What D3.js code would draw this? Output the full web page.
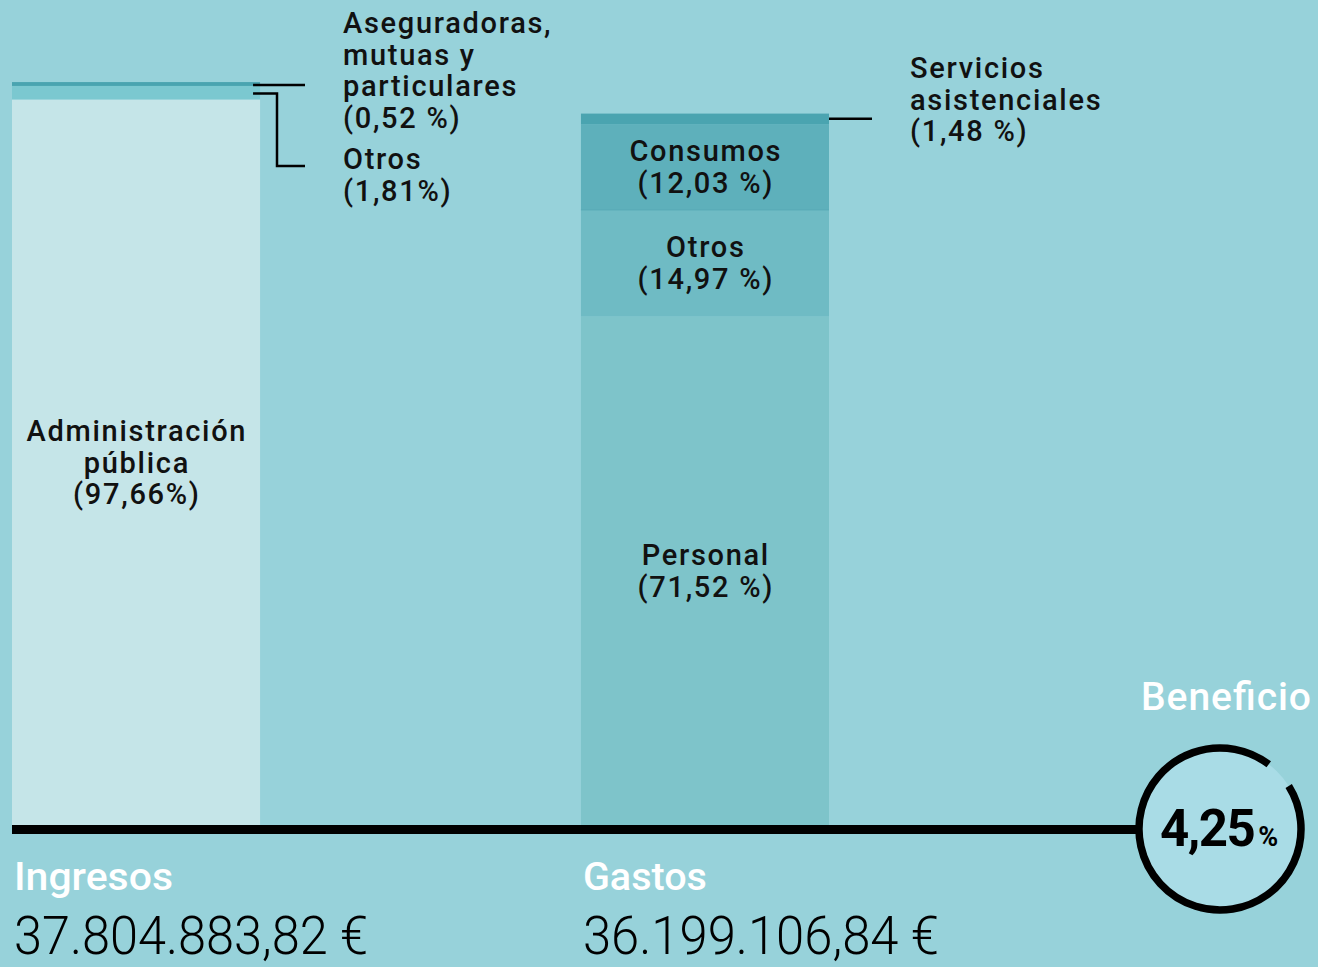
<!DOCTYPE html>
<html>
<head>
<meta charset="utf-8">
<script src="https://cdn.jsdelivr.net/npm/d3@7"></script>
<style>
  html, body { margin: 0; padding: 0; background: #97d2da; }
  svg { display: block; font-family: Roboto, "DejaVu Sans", sans-serif; }
</style>
</head>
<body>
<div id="chart"></div>
<script>
// Totales (euros)
const groups = ['Ingresos', 'Gastos'];
const totals = [37804883.82, 36199106.84];
const totalLabels = ['37.804.883,82 €', '36.199.106,84 €'];

// Segmentos de abajo arriba, en % de cada total
const ingresosCats = ['Administración pública', 'Otros', 'Aseguradoras, mutuas y particulares'];
const ingresosPct = [97.66, 1.81, 0.52];
const gastosCats = ['Personal', 'Otros', 'Consumos', 'Servicios asistenciales'];
const gastosPct = [71.52, 14.97, 12.03, 1.48];

const beneficioPct = 4.25;

const width = 1318, height = 967;
const baseY = 826;

const svg = d3.select('#chart').append('svg')
    .attr('width', width)
    .attr('height', height);

svg.append('rect').attr('width', width).attr('height', height).attr('fill', '#97d2da');

const x = d3.scaleBand()
    .domain(groups)
    .range([12, 829])
    .paddingInner(0.564);

const y = d3.scaleLinear()
    .domain([0, d3.max(totals)])
    .range([baseY, 82]);

function stackUp(pcts, total) {
    let acc = 0;
    return pcts.map(p => {
        const v = p / 100 * total;
        const seg = { y0: acc, y1: acc + v, pct: p };
        acc += v;
        return seg;
    });
}

const ingSegs = stackUp(ingresosPct, totals[0]);
const gasSegs = stackUp(gastosPct, totals[1]);

const ingColors = ['#c5e5e8', '#7bc8d0', '#4aa4b0'];
const gasColors = ['#7ec4ca', '#6fbbc4', '#5eb0bb', '#4aa4b0'];

function drawBar(segs, colors, group) {
    svg.append('g').selectAll('rect')
        .data(segs)
        .join('rect')
        .attr('x', x(group))
        .attr('width', x.bandwidth())
        .attr('y', d => y(d.y1))
        .attr('height', d => y(d.y0) - y(d.y1))
        .attr('fill', (d, i) => colors[i]);
}
drawBar(ingSegs, ingColors, 'Ingresos');
drawBar(gasSegs, gasColors, 'Gastos');

// separación fina entre Consumos y Otros
svg.append('line')
    .attr('x1', x('Gastos')).attr('x2', x('Gastos') + x.bandwidth())
    .attr('y1', y(gasSegs[1].y1)).attr('y2', y(gasSegs[1].y1))
    .attr('stroke', '#55a9b4').attr('stroke-width', 1);

const fs = 29, lh = 31.5, ls = 1.7;

function centerLabel(lines, cx, cy) {
    const t = svg.append('text')
        .attr('text-anchor', 'middle')
        .style('font-size', fs + 'px')
        .style('font-weight', 500)
        .attr('letter-spacing', ls)
        .attr('fill', '#111');
    const b0 = cy + 10 - (lines.length - 1) * lh / 2;
    lines.forEach((l, i) => {
        t.append('tspan').attr('x', cx + ls / 2).attr('y', b0 + i * lh).text(l);
    });
}

function sideLabel(lines, lx, b0) {
    const t = svg.append('text')
        .style('font-size', fs + 'px')
        .style('font-weight', 500)
        .attr('letter-spacing', ls)
        .attr('fill', '#111');
    lines.forEach((l, i) => {
        t.append('tspan').attr('x', lx).attr('y', b0 + i * lh).text(l);
    });
}

const fmt = v => v.toFixed(2).replace('.', ',');
const midY = s => (y(s.y0) + y(s.y1)) / 2;
const ingCx = x('Ingresos') + x.bandwidth() / 2;
const gasCx = x('Gastos') + x.bandwidth() / 2;

centerLabel(['Administración', 'pública', `(${fmt(ingresosPct[0])}%)`], ingCx, midY(ingSegs[0]));
centerLabel(['Personal', `(${fmt(gastosPct[0])} %)`], gasCx, midY(gasSegs[0]));
centerLabel(['Otros', `(${fmt(gastosPct[1])} %)`], gasCx, midY(gasSegs[1]));
centerLabel(['Consumos', `(${fmt(gastosPct[2])} %)`], gasCx, midY(gasSegs[2]));

// Anotaciones laterales
const lead = svg.append('g').attr('fill', 'none').attr('stroke', '#000').attr('stroke-width', 2.5);
const ingRight = x('Ingresos') + x.bandwidth();
const aY = midY(ingSegs[2]) + 1;
const oY = y(ingSegs[1].y0) - 6;
lead.append('path').attr('d', `M${ingRight - 7},${aY}H305`);
lead.append('path').attr('d', `M${ingRight - 7},${oY}H277V166H305`);
sideLabel(['Aseguradoras,', 'mutuas y', 'particulares', `(${fmt(ingresosPct[2])} %)`], 343, 33);
sideLabel(['Otros', `(${fmt(ingresosPct[1])}%)`], 343, 169);

const gasRight = x('Gastos') + x.bandwidth();
const sY = midY(gasSegs[3]);
lead.append('path').attr('d', `M${gasRight},${sY}H872`);
sideLabel(['Servicios', 'asistenciales', `(${fmt(gastosPct[3])} %)`], 910, 78);

// Línea base y círculo de beneficio
const cx = 1220, cy = 829, r = 81;
svg.append('line')
    .attr('x1', 12).attr('x2', cx - r)
    .attr('y1', 829.5).attr('y2', 829.5)
    .attr('stroke', '#000').attr('stroke-width', 9);

svg.append('circle').attr('cx', cx).attr('cy', cy).attr('r', r).attr('fill', '#a9dce6');
const arc = d3.arc().innerRadius(r).outerRadius(r)
    .startAngle(58 * Math.PI / 180)
    .endAngle((360 + 37) * Math.PI / 180);
svg.append('path')
    .attr('transform', `translate(${cx},${cy})`)
    .attr('d', arc())
    .attr('fill', 'none')
    .attr('stroke', '#000')
    .attr('stroke-width', 7.5)
    .attr('stroke-linecap', 'round');

const bt = svg.append('text')
    .attr('x', 1160).attr('y', 846)
    .attr('fill', '#000')
    .style('font-weight', 700);
bt.append('tspan').style('font-size', '51px').attr('letter-spacing', -1.5).text(fmt(beneficioPct));
bt.append('tspan').style('font-size', '27px').attr('dx', 4).text('%');

svg.append('text')
    .attr('x', 1311).attr('y', 710)
    .attr('text-anchor', 'end')
    .attr('fill', '#fff')
    .style('font-size', '39px')
    .style('font-weight', 500)
    .attr('textLength', 170)
    .attr('lengthAdjust', 'spacing')
    .text('Beneficio');

// Etiquetas inferiores
groups.forEach((g, i) => {
    const gx = x(g) + 2;
    svg.append('text')
        .attr('x', gx).attr('y', 890)
        .attr('fill', '#fff')
        .style('font-size', '38px')
        .style('font-weight', 500)
        .attr('textLength', i === 0 ? 159 : 124)
        .attr('lengthAdjust', 'spacingAndGlyphs')
        .text(g);
    svg.append('text')
        .attr('x', gx).attr('y', 954)
        .attr('fill', '#000')
        .style('font-size', '54px')
        .style('font-weight', 300)
        .attr('textLength', i === 0 ? 354 : 356)
        .attr('lengthAdjust', 'spacingAndGlyphs')
        .text(totalLabels[i]);
});
</script>
</body>
</html>
